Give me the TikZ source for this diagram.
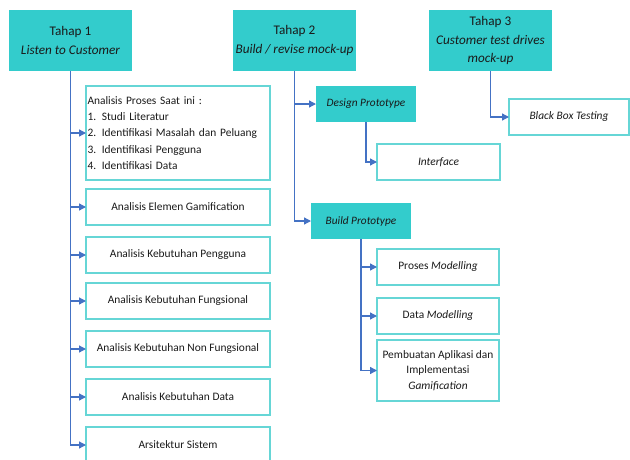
\documentclass[tikz,border=0pt]{standalone}
\usepackage{fontspec}
\setmainfont{Carlito}
\usetikzlibrary{arrows.meta}
\definecolor{stagefill}{HTML}{33CCCC}
\definecolor{taskedge}{HTML}{66D6D6}
\definecolor{linkblue}{HTML}{4472C4}
\definecolor{ink}{HTML}{1A1A1A}

\begin{document}
\begin{tikzpicture}[x=1pt,y=-1pt,
  stage/.style={fill=stagefill, draw=none, align=center, text=ink,
    font=\fontsize{13.2}{18.5}\selectfont, inner sep=0pt, outer sep=0pt,
    minimum width=123pt, minimum height=61pt},
  substage/.style={fill=stagefill, draw=none, text=ink,
    font=\fontsize{11.3}{13}\selectfont\itshape, inner sep=0pt, outer sep=0pt,
    minimum width=100pt, minimum height=36pt},
  task/.style={draw=taskedge, line width=1.2pt, fill=white, align=center, text=ink,
    font=\fontsize{11.4}{15.5}\selectfont, inner sep=0pt, outer sep=0pt,
    minimum height=36pt},
  link/.style={draw=linkblue, line width=1.3pt, -{Triangle[length=7pt,width=7pt]}}]

\path[use as bounding box] (0,0) rectangle (630,459);
\clip (0,0) rectangle (630,459);

% stage headers
\node[stage] (t1) at (70.5,40.5) {Tahap 1\\\textit{Listen to Customer}};
\node[stage] (t2) at (294.5,40.5) {Tahap 2\\\textit{Build / revise mock-up}};
\node[stage] (t3) at (490.5,40.5) {Tahap 3\\\textit{Customer test drives}\\\textit{mock-up}};

% stage 1 tasks
\node[task, text width=181pt, align=left, inner xsep=1.5pt, minimum height=94pt,
  font=\fontsize{11.4}{16.2}\selectfont] (a1) at (178,133)
  {Analisis Proses Saat ini :\\1. Studi Literatur\\2. Identifikasi Masalah dan Peluang\\3. Identifikasi Pengguna\\4. Identifikasi Data};
\node[task, minimum width=184pt] (a2) at (178,207) {Analisis Elemen Gamification};
\node[task, minimum width=184pt] (a3) at (178,255) {Analisis Kebutuhan Pengguna};
\node[task, minimum width=184pt] (a4) at (178,301) {Analisis Kebutuhan Fungsional};
\node[task, minimum width=184pt] (a5) at (178,349) {Analisis Kebutuhan Non Fungsional};
\node[task, minimum width=184pt] (a6) at (178,397) {Analisis Kebutuhan Data};
\node[task, minimum width=184pt] (a7) at (178,445) {Arsitektur Sistem};

% stage 2
\node[substage] (dp) at (366,104) {Design Prototype};
\node[substage] (bp) at (361,221) {Build Prototype};
\node[task, minimum width=123pt] (if) at (438.5,162) {\textit{Interface}};
\node[task, minimum width=122pt] (pm) at (438,267) {Proses \textit{Modelling}};
\node[task, minimum width=122pt] (dm) at (438,316) {Data \textit{Modelling}};
\node[task, minimum width=122pt, minimum height=61pt] (pa) at (438,370.5)
  {Pembuatan Aplikasi dan\\Implementasi\\\textit{Gamification}};

% stage 3
\node[task, minimum width=120pt] (bb) at (569,117) {\textit{Black Box Testing}};

% connectors
\foreach \n in {a1,a2,a3,a4,a5,a6,a7} \draw[link] (t1.south) |- (\n.west);
\draw[link] (t2.south) |- (dp.west);
\draw[link] (t2.south) |- (bp.west);
\draw[link] (dp.south) |- (if.west);
\foreach \n in {pm,dm,pa} \draw[link] (bp.south) |- (\n.west);
\draw[link] (t3.south) |- (bb.west);
\end{tikzpicture}
\end{document}
